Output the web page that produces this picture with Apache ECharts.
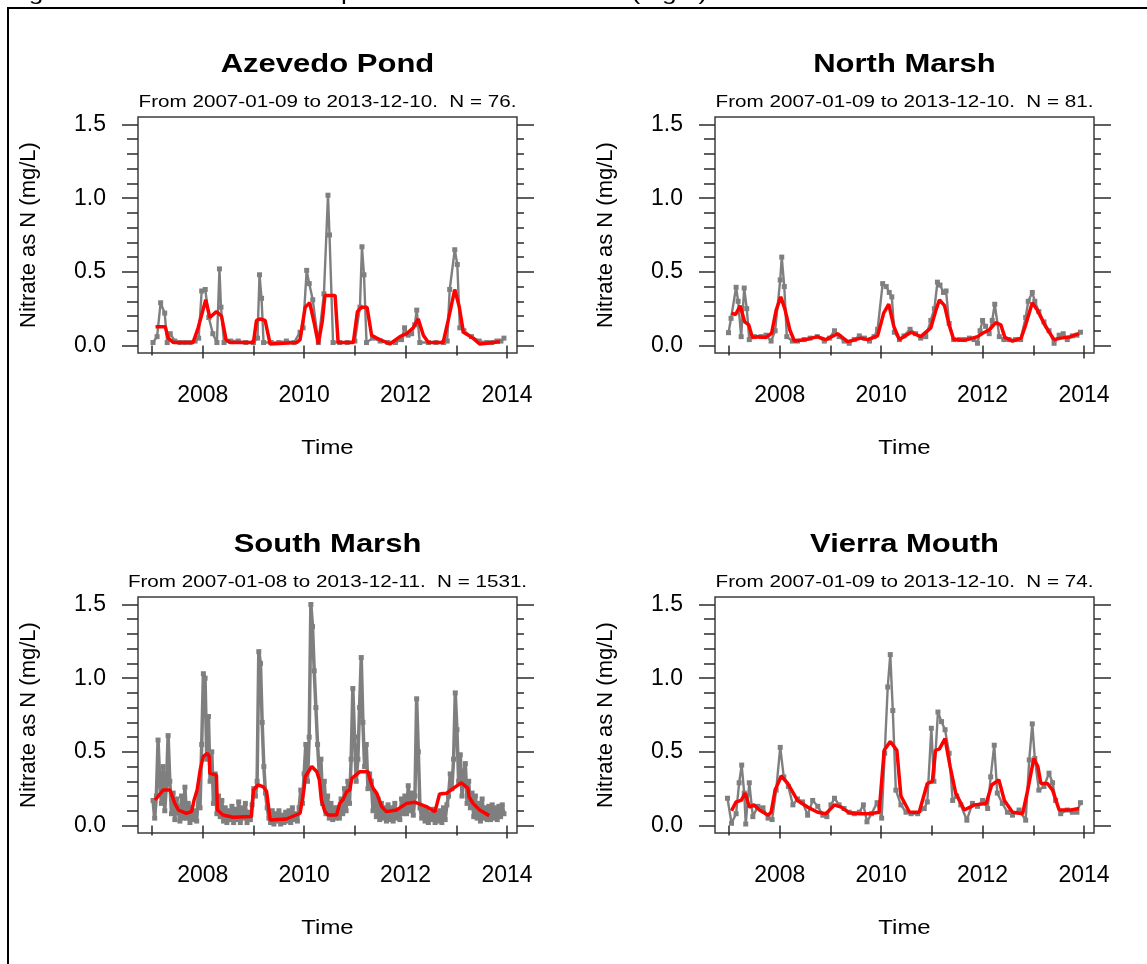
<!DOCTYPE html>
<html><head><meta charset="utf-8">
<script src="https://cdn.jsdelivr.net/npm/echarts@6/dist/echarts.min.js"></script>
<style>html,body{margin:0;padding:0;background:#fff}#c{width:1147px;height:964px}</style>
</head><body><div id="c"></div><script>
// ---------------- DATA ----------------
const panelTitles = ['Azevedo Pond', 'North Marsh', 'South Marsh', 'Vierra Mouth'];
const panelSubtitles = [
  'From 2007-01-09 to 2013-12-10.  N = 76.',
  'From 2007-01-09 to 2013-12-10.  N = 81.',
  'From 2007-01-08 to 2013-12-11.  N = 1531.',
  'From 2007-01-09 to 2013-12-10.  N = 74.'
];
const xLabelYears = [2008, 2010, 2012, 2014];
const xMinorYears = [2007, 2009, 2011, 2013];
const yMajorTicks = [0, 0.5, 1.0, 1.5];
const yMinorTicks = [0.1, 0.2, 0.3, 0.4, 0.6, 0.7, 0.8, 0.9, 1.1, 1.2, 1.3, 1.4];
const yAxisName = 'Nitrate as N (mg/L)';
const xAxisName = 'Time';
const captionText = 'Figure 3. Nitrate as N in samples collected at all sites (mg/L)';

// Azevedo Pond
const azevedoDates = [2007.02,2007.10,2007.17,2007.25,2007.30,2007.36,2007.45,2007.55,2007.65,2007.75,2007.85,2007.92,2007.98,2008.05,2008.12,2008.20,2008.28,2008.33,2008.36,2008.42,2008.55,2008.70,2008.85,2009.00,2009.08,2009.12,2009.16,2009.20,2009.35,2009.50,2009.65,2009.80,2009.92,2009.98,2010.05,2010.10,2010.17,2010.28,2010.39,2010.47,2010.50,2010.57,2010.70,2010.85,2011.00,2011.10,2011.14,2011.18,2011.23,2011.35,2011.50,2011.65,2011.80,2011.92,2011.98,2012.05,2012.12,2012.18,2012.22,2012.28,2012.45,2012.60,2012.75,2012.82,2012.87,2012.97,2013.02,2013.07,2013.15,2013.30,2013.45,2013.60,2013.70,2013.80,2013.88,2013.94];
const azevedoValues = [0.02,0.06,0.29,0.22,0.02,0.08,0.03,0.02,0.02,0.02,0.03,0.05,0.37,0.38,0.19,0.08,0.02,0.52,0.26,0.02,0.03,0.03,0.02,0.02,0.05,0.48,0.32,0.02,0.02,0.02,0.03,0.02,0.09,0.12,0.51,0.42,0.31,0.02,0.35,1.02,0.75,0.02,0.02,0.02,0.03,0.26,0.67,0.48,0.02,0.05,0.03,0.02,0.02,0.04,0.12,0.07,0.08,0.14,0.24,0.02,0.02,0.02,0.02,0.03,0.38,0.65,0.55,0.12,0.10,0.06,0.03,0.02,0.02,0.03,0.03,0.05];
const azevedoSmoothDates = [2007.07,2007.26,2007.32,2007.42,2007.81,2007.91,2008.06,2008.14,2008.27,2008.37,2008.46,2008.54,2009.00,2009.06,2009.14,2009.23,2009.33,2009.85,2009.92,2010.02,2010.11,2010.20,2010.28,2010.36,2010.41,2010.61,2010.67,2010.97,2011.05,2011.13,2011.24,2011.33,2011.43,2011.69,2011.89,2012.02,2012.15,2012.25,2012.35,2012.45,2012.74,2012.84,2012.97,2013.06,2013.14,2013.33,2013.46,2013.86];
const azevedoSmoothValues = [0.128,0.128,0.05,0.02,0.02,0.12,0.31,0.19,0.23,0.20,0.04,0.02,0.02,0.17,0.18,0.17,0.01,0.02,0.04,0.26,0.29,0.15,0.01,0.17,0.34,0.34,0.02,0.02,0.23,0.26,0.26,0.07,0.05,0.01,0.06,0.08,0.12,0.18,0.07,0.02,0.02,0.17,0.38,0.26,0.09,0.05,0.01,0.025];

// North Marsh
const northDates = [2006.99,2007.04,2007.14,2007.18,2007.24,2007.30,2007.35,2007.40,2007.50,2007.63,2007.73,2007.83,2007.91,2008.01,2008.04,2008.09,2008.14,2008.25,2008.35,2008.48,2008.60,2008.74,2008.88,2008.98,2009.08,2009.17,2009.27,2009.37,2009.47,2009.57,2009.67,2009.77,2009.86,2009.93,2010.03,2010.10,2010.16,2010.21,2010.26,2010.36,2010.45,2010.57,2010.68,2010.78,2010.88,2010.98,2011.05,2011.11,2011.16,2011.23,2011.28,2011.34,2011.43,2011.54,2011.64,2011.74,2011.83,2011.90,2011.95,2012.00,2012.06,2012.13,2012.19,2012.24,2012.33,2012.42,2012.52,2012.65,2012.75,2012.85,2012.90,2012.98,2013.03,2013.11,2013.21,2013.31,2013.41,2013.51,2013.59,2013.67,2013.77,2013.86,2013.93];
const northValues = [0.087,0.184,0.395,0.30,0.06,0.39,0.25,0.04,0.06,0.06,0.07,0.03,0.10,0.445,0.60,0.40,0.06,0.03,0.03,0.04,0.05,0.06,0.03,0.05,0.10,0.06,0.03,0.015,0.04,0.065,0.05,0.03,0.06,0.11,0.42,0.40,0.36,0.33,0.09,0.04,0.065,0.11,0.08,0.05,0.06,0.17,0.25,0.43,0.41,0.36,0.37,0.15,0.04,0.04,0.04,0.05,0.04,0.015,0.10,0.17,0.13,0.08,0.17,0.28,0.06,0.04,0.04,0.04,0.04,0.19,0.30,0.36,0.30,0.23,0.16,0.10,0.015,0.07,0.08,0.04,0.065,0.07,0.09];
const northSmoothDates = [2007.05,2007.13,2007.22,2007.31,2007.39,2007.46,2007.57,2007.73,2007.84,2007.93,2008.02,2008.10,2008.20,2008.29,2008.52,2008.74,2008.91,2009.14,2009.34,2009.60,2009.73,2009.93,2010.05,2010.15,2010.25,2010.36,2010.59,2010.78,2010.98,2011.08,2011.15,2011.25,2011.34,2011.43,2011.64,2011.80,2011.90,2012.00,2012.13,2012.26,2012.36,2012.44,2012.59,2012.76,2012.85,2012.98,2013.08,2013.24,2013.41,2013.54,2013.73,2013.90];
const northSmoothValues = [0.22,0.21,0.27,0.16,0.14,0.055,0.06,0.055,0.083,0.24,0.33,0.25,0.105,0.03,0.04,0.06,0.04,0.08,0.026,0.05,0.04,0.065,0.22,0.28,0.13,0.04,0.09,0.06,0.12,0.24,0.31,0.27,0.14,0.04,0.035,0.05,0.06,0.083,0.105,0.155,0.14,0.055,0.03,0.05,0.14,0.29,0.24,0.13,0.04,0.05,0.06,0.08];

// South Marsh (dense record, read in blocks of ~4 months, first to last sample)
const southFirstDate = 2007.02;
const southLastDate = 2013.94;
const southValues = [
  0.17,0.05,0.20,0.58,0.30,0.15,0.40,0.10,0.28,0.61,
  0.30,0.08,0.22,0.04,0.18,0.10,0.03,0.20,0.05,0.26,
  0.05,0.15,0.02,0.12,0.04,0.10,0.03,0.22,0.12,0.55,
  1.03,1.00,0.45,0.74,0.30,0.50,0.15,0.35,0.08,0.20,
  0.06,0.17,0.03,0.12,0.02,0.10,0.04,0.13,0.02,0.11,
  0.04,0.16,0.02,0.12,0.05,0.15,0.02,0.09,0.04,0.14,
  0.25,0.20,0.30,1.18,1.10,0.70,0.40,0.22,0.12,0.05,
  0.02,0.10,0.01,0.08,0.03,0.10,0.01,0.07,0.02,0.09,
  0.03,0.10,0.02,0.12,0.04,0.08,0.03,0.12,0.24,0.15,
  0.35,0.55,0.30,0.60,1.50,1.35,1.05,0.80,0.55,0.35,
  0.45,0.15,0.30,0.08,0.20,0.05,0.15,0.04,0.12,0.05,
  0.12,0.05,0.18,0.08,0.25,0.10,0.30,0.15,0.45,0.93,
  0.60,0.30,0.45,0.80,1.14,0.70,0.40,0.55,0.25,0.35,
  0.30,0.10,0.22,0.06,0.18,0.04,0.15,0.05,0.12,0.03,
  0.14,0.04,0.12,0.03,0.15,0.05,0.10,0.04,0.18,0.08,
  0.20,0.08,0.27,0.10,0.22,0.07,0.20,0.86,0.50,0.12,
  0.05,0.12,0.03,0.10,0.02,0.08,0.04,0.11,0.02,0.09,
  0.03,0.10,0.02,0.12,0.04,0.14,0.20,0.35,0.25,0.45,
  0.90,0.65,0.30,0.48,0.20,0.35,0.42,0.15,0.30,0.12,
  0.22,0.06,0.20,0.05,0.15,0.03,0.18,0.05,0.12,0.04,
  0.13,0.04,0.14,0.05,0.12,0.04,0.13,0.06,0.14,0.08
];
const southSmoothDates = [2007.06,2007.22,2007.355,2007.45,2007.52,2007.68,2007.78,2007.83,2007.89,2007.95,2008.01,2008.09,2008.13,2008.14,2008.27,2008.29,2008.40,2008.60,2008.96,2009.00,2009.09,2009.19,2009.26,2009.33,2009.65,2009.92,2009.995,2010.02,2010.15,2010.25,2010.30,2010.34,2010.41,2010.47,2010.64,2010.70,2010.77,2010.84,2010.90,2010.94,2011.10,2011.26,2011.30,2011.36,2011.43,2011.53,2011.62,2011.82,2012.02,2012.18,2012.41,2012.58,2012.67,2012.81,2012.94,2013.10,2013.23,2013.25,2013.33,2013.46,2013.65];
const southSmoothValues = [0.173,0.241,0.241,0.15,0.105,0.083,0.094,0.173,0.241,0.377,0.467,0.49,0.467,0.354,0.343,0.105,0.071,0.056,0.061,0.241,0.275,0.264,0.23,0.037,0.044,0.083,0.241,0.331,0.40,0.365,0.309,0.173,0.094,0.071,0.071,0.15,0.178,0.23,0.241,0.32,0.365,0.365,0.309,0.252,0.219,0.128,0.094,0.105,0.15,0.158,0.128,0.094,0.214,0.219,0.252,0.29,0.252,0.196,0.15,0.105,0.067];

// Vierra Mouth
const vierraDates = [2006.97,2007.05,2007.14,2007.20,2007.25,2007.30,2007.33,2007.40,2007.47,2007.57,2007.67,2007.77,2007.85,2007.93,2008.01,2008.08,2008.17,2008.26,2008.35,2008.45,2008.55,2008.65,2008.75,2008.85,2008.93,2009.01,2009.08,2009.17,2009.27,2009.37,2009.47,2009.57,2009.65,2009.72,2009.81,2009.92,2010.01,2010.07,2010.13,2010.18,2010.23,2010.29,2010.39,2010.49,2010.59,2010.72,2010.85,2010.91,2010.99,2011.04,2011.12,2011.19,2011.26,2011.34,2011.41,2011.49,2011.57,2011.69,2011.80,2011.90,2012.00,2012.10,2012.16,2012.23,2012.29,2012.39,2012.49,2012.59,2012.72,2012.85,2012.92,2012.98,2013.03,2013.11,2013.21,2013.31,2013.38,2013.44,2013.54,2013.67,2013.77,2013.86,2013.93];
const vierraValues = [0.185,0.015,0.08,0.29,0.41,0.22,0.01,0.29,0.06,0.13,0.12,0.05,0.04,0.24,0.53,0.33,0.265,0.14,0.18,0.16,0.07,0.17,0.13,0.07,0.06,0.14,0.185,0.14,0.115,0.09,0.08,0.09,0.14,0.025,0.08,0.155,0.05,0.49,0.94,1.16,0.78,0.24,0.14,0.09,0.08,0.08,0.115,0.16,0.66,0.30,0.77,0.705,0.65,0.49,0.17,0.20,0.14,0.036,0.15,0.13,0.17,0.115,0.33,0.545,0.22,0.15,0.09,0.07,0.105,0.036,0.445,0.69,0.455,0.24,0.265,0.355,0.29,0.17,0.08,0.105,0.09,0.09,0.155];
const vierraSmoothDates = [2007.05,2007.14,2007.24,2007.32,2007.40,2007.49,2007.60,2007.77,2007.83,2007.91,2008.03,2008.16,2008.35,2008.55,2008.75,2008.91,2009.08,2009.21,2009.37,2009.57,2009.77,2009.96,2010.06,2010.18,2010.31,2010.39,2010.56,2010.75,2010.91,2011.01,2011.07,2011.15,2011.26,2011.36,2011.47,2011.64,2011.84,2012.07,2012.18,2012.32,2012.43,2012.59,2012.79,2012.89,2013.01,2013.09,2013.15,2013.28,2013.38,2013.51,2013.74,2013.90];
const vierraSmoothValues = [0.10,0.16,0.17,0.22,0.125,0.14,0.105,0.07,0.09,0.24,0.336,0.285,0.17,0.125,0.09,0.08,0.14,0.125,0.086,0.08,0.08,0.09,0.51,0.57,0.51,0.20,0.09,0.09,0.285,0.30,0.51,0.52,0.59,0.40,0.22,0.105,0.14,0.15,0.275,0.31,0.17,0.09,0.08,0.24,0.455,0.40,0.285,0.285,0.24,0.105,0.105,0.115];

// ---------------- CHART ----------------
const southDates = southValues.map((v, i) => southFirstDate + i * (southLastDate - southFirstDate) / (southValues.length - 1));
const zip = (a, b) => a.map((x, i) => [x, b[i]]);
const rawSeries = [zip(azevedoDates, azevedoValues), zip(northDates, northValues), zip(southDates, southValues), zip(vierraDates, vierraValues)];
const smoothSeries = [zip(azevedoSmoothDates, azevedoSmoothValues), zip(northSmoothDates, northSmoothValues), zip(southSmoothDates, southSmoothValues), zip(vierraSmoothDates, vierraSmoothValues)];

const FONT = '"Liberation Sans", Arial, sans-serif';
const XMIN = 2006.724, XMAX = 2014.197, YMIN = -0.051, YMAX = 1.551;
const GW = 379, GH = 236;
const gridPos = [[138, 117], [715, 117], [138, 597], [715, 597]];
const axisCol = '#2b2b2b';
const greyCol = '#7f7f7f';

const grids = [], xAxes = [], yAxes = [], series = [], graphics = [];
gridPos.forEach((p, i) => {
  grids.push({left: p[0], top: p[1], width: GW, height: GH, show: true, borderColor: '#3c3c3c', borderWidth: 1.5, containLabel: false});
  const xBase = {type: 'value', gridIndex: i, min: XMIN, max: XMAX, position: 'bottom', axisLine: {show: false}, splitLine: {show: false}};
  xAxes.push(Object.assign({}, xBase, {
    axisTick: {show: true, customValues: xLabelYears, length: 13, lineStyle: {color: axisCol, width: 1.5}},
    axisLabel: {show: true, customValues: xLabelYears, margin: 31, fontSize: 23, color: '#000', fontFamily: FONT, formatter: v => String(Math.round(v))}
  }));
  xAxes.push(Object.assign({}, xBase, {
    axisTick: {show: true, customValues: xMinorYears, length: 10, lineStyle: {color: axisCol, width: 1.5}},
    axisLabel: {show: false}
  }));
  const yBase = {type: 'value', gridIndex: i, min: YMIN, max: YMAX, axisLine: {show: false}, splitLine: {show: false}};
  yAxes.push(Object.assign({}, yBase, {position: 'left',
    axisTick: {show: true, customValues: yMajorTicks, length: 16, lineStyle: {color: axisCol, width: 1.5}},
    axisLabel: {show: true, customValues: yMajorTicks, margin: 32, fontSize: 23, color: '#000', fontFamily: FONT, formatter: v => v.toFixed(1)}
  }));
  yAxes.push(Object.assign({}, yBase, {position: 'left',
    axisTick: {show: true, customValues: yMinorTicks, length: 11, lineStyle: {color: axisCol, width: 1.5}},
    axisLabel: {show: false}
  }));
  yAxes.push(Object.assign({}, yBase, {position: 'right',
    axisTick: {show: true, customValues: yMajorTicks, length: 17, lineStyle: {color: axisCol, width: 1.5}},
    axisLabel: {show: false}
  }));
  yAxes.push(Object.assign({}, yBase, {position: 'right',
    axisTick: {show: true, customValues: yMinorTicks, length: 7, lineStyle: {color: axisCol, width: 1.5}},
    axisLabel: {show: false}
  }));
  const dense = (i === 2);
  series.push({type: 'line', xAxisIndex: i * 2, yAxisIndex: i * 4, data: rawSeries[i],
    symbol: 'rect', symbolSize: 5, showSymbol: true, itemStyle: {color: greyCol},
    lineStyle: {color: greyCol, width: dense ? 3.5 : 2.4}, z: 2, animation: false, silent: true});
  series.push({type: 'line', xAxisIndex: i * 2, yAxisIndex: i * 4, data: smoothSeries[i],
    symbol: 'none', lineStyle: {color: '#ff0000', width: 3.5}, z: 3, animation: false, silent: true});

  const cx = p[0] + GW / 2;
  const rowOff = p[1] - 117;
  graphics.push({type: 'text', x: cx, y: 65 + rowOff, scaleX: 1.24, style: {text: panelTitles[i], font: 'bold 25px ' + FONT, fill: '#000', align: 'center', verticalAlign: 'middle'}});
  graphics.push({type: 'text', x: cx, y: 102 + rowOff, scaleX: 1.25, style: {text: panelSubtitles[i], font: '16.5px ' + FONT, fill: '#000', align: 'center', verticalAlign: 'middle'}});
  graphics.push({type: 'text', x: cx, y: 448 + rowOff, scaleX: 1.14, style: {text: xAxisName, font: '21px ' + FONT, fill: '#000', align: 'center', verticalAlign: 'middle'}});
  graphics.push({type: 'text', x: p[0] - 109, y: p[1] + GH / 2, rotation: Math.PI / 2, style: {text: yAxisName, font: '22px ' + FONT, fill: '#000', align: 'center', verticalAlign: 'middle'}});
});

graphics.push({type: 'rect', shape: {x: 8, y: 8, width: 1400, height: 1200}, style: {fill: 'none', stroke: '#000', lineWidth: 2}, silent: true});
graphics.push({type: 'text', x: 7, y: -6, scaleX: 1.25, style: {text: captionText, font: '21px ' + FONT, fill: '#000', align: 'left', verticalAlign: 'middle'}});

const chart = echarts.init(document.getElementById('c'), null, {renderer: 'canvas'});
chart.setOption({
  animation: false,
  backgroundColor: '#fff',
  grid: grids, xAxis: xAxes, yAxis: yAxes, series: series,
  graphic: {elements: graphics}
});
</script></body></html>
